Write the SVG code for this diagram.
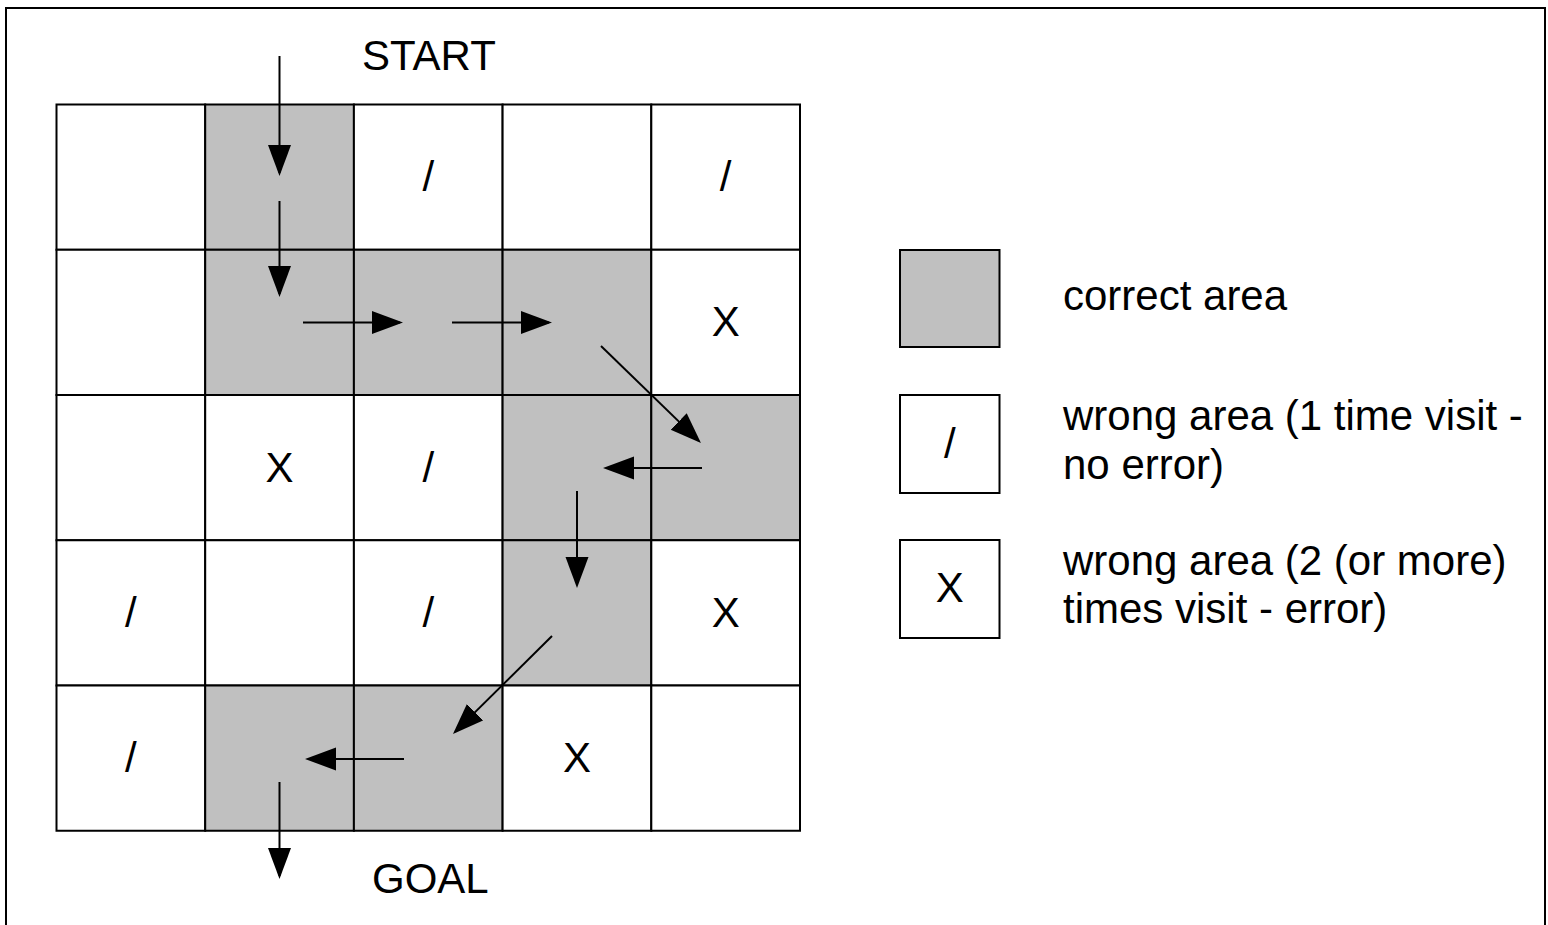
<svg xmlns="http://www.w3.org/2000/svg" width="1548" height="925" viewBox="0 0 1548 925">
<style>
.frame{fill:#fff;stroke:#000;stroke-width:2}
.w{fill:#fff;stroke:#000;stroke-width:2}
.g{fill:#c0c0c0;stroke:#000;stroke-width:2}
.t{font-family:"Liberation Sans",Arial,sans-serif;font-size:42px;fill:#000}
.c{text-anchor:middle}
.a{stroke:#000;stroke-width:2;fill:none;marker-end:url(#ah)}
</style>
<defs>
<marker id="ah" markerUnits="userSpaceOnUse" markerWidth="32" markerHeight="24" refX="28" refY="11.5" orient="auto">
<path d="M0,0 L31,11.5 L0,23 z" fill="#000"/>
</marker>
</defs>
<rect class="frame" x="6" y="8" width="1539" height="940"/>
<text id="start" class="t" x="362" y="70">START</text>
<text id="goal" class="t" x="372" y="893">GOAL</text>
<g id="grid">
<g id="r0c0"><rect class="w" x="56.5" y="104.5" width="148.7" height="145.25"/></g>
<g id="r0c1"><rect class="g" x="205.2" y="104.5" width="148.7" height="145.25"/></g>
<g id="r0c2"><rect class="w" x="353.9" y="104.5" width="148.7" height="145.25"/><text class="t c" x="428.25" y="191">/</text></g>
<g id="r0c3"><rect class="w" x="502.6" y="104.5" width="148.7" height="145.25"/></g>
<g id="r0c4"><rect class="w" x="651.3" y="104.5" width="148.7" height="145.25"/><text class="t c" x="725.65" y="191">/</text></g>
<g id="r1c0"><rect class="w" x="56.5" y="249.75" width="148.7" height="145.25"/></g>
<g id="r1c1"><rect class="g" x="205.2" y="249.75" width="148.7" height="145.25"/></g>
<g id="r1c2"><rect class="g" x="353.9" y="249.75" width="148.7" height="145.25"/></g>
<g id="r1c3"><rect class="g" x="502.6" y="249.75" width="148.7" height="145.25"/></g>
<g id="r1c4"><rect class="w" x="651.3" y="249.75" width="148.7" height="145.25"/><text class="t c" x="725.65" y="336">X</text></g>
<g id="r2c0"><rect class="w" x="56.5" y="395" width="148.7" height="145.25"/></g>
<g id="r2c1"><rect class="w" x="205.2" y="395" width="148.7" height="145.25"/><text class="t c" x="279.55" y="481.5">X</text></g>
<g id="r2c2"><rect class="w" x="353.9" y="395" width="148.7" height="145.25"/><text class="t c" x="428.25" y="481.5">/</text></g>
<g id="r2c3"><rect class="g" x="502.6" y="395" width="148.7" height="145.25"/></g>
<g id="r2c4"><rect class="g" x="651.3" y="395" width="148.7" height="145.25"/></g>
<g id="r3c0"><rect class="w" x="56.5" y="540.25" width="148.7" height="145.25"/><text class="t c" x="130.85" y="626.5">/</text></g>
<g id="r3c1"><rect class="w" x="205.2" y="540.25" width="148.7" height="145.25"/></g>
<g id="r3c2"><rect class="w" x="353.9" y="540.25" width="148.7" height="145.25"/><text class="t c" x="428.25" y="626.5">/</text></g>
<g id="r3c3"><rect class="g" x="502.6" y="540.25" width="148.7" height="145.25"/></g>
<g id="r3c4"><rect class="w" x="651.3" y="540.25" width="148.7" height="145.25"/><text class="t c" x="725.65" y="626.5">X</text></g>
<g id="r4c0"><rect class="w" x="56.5" y="685.5" width="148.7" height="145.25"/><text class="t c" x="130.85" y="772">/</text></g>
<g id="r4c1"><rect class="g" x="205.2" y="685.5" width="148.7" height="145.25"/></g>
<g id="r4c2"><rect class="g" x="353.9" y="685.5" width="148.7" height="145.25"/></g>
<g id="r4c3"><rect class="w" x="502.6" y="685.5" width="148.7" height="145.25"/><text class="t c" x="576.95" y="772">X</text></g>
<g id="r4c4"><rect class="w" x="651.3" y="685.5" width="148.7" height="145.25"/></g>
</g>
<g id="connectors">
<line class="a" x1="279.5" y1="56" x2="279.5" y2="173"/>
<line class="a" x1="279.5" y1="201" x2="279.5" y2="294"/>
<line class="a" x1="303" y1="322.5" x2="400" y2="322.5"/>
<line class="a" x1="452" y1="322.5" x2="549" y2="322.5"/>
<line class="a" x1="601" y1="346" x2="698.8" y2="440.9"/>
<line class="a" x1="702" y1="468" x2="606" y2="468"/>
<line class="a" x1="577" y1="491" x2="577" y2="585"/>
<line class="a" x1="552" y1="636" x2="455.1" y2="731.9"/>
<line class="a" x1="404" y1="759" x2="308" y2="759"/>
<line class="a" x1="279.5" y1="782" x2="279.5" y2="876"/>
</g>
<g id="legend-correct"><rect class="g" x="900" y="250" width="99.5" height="97"/><text class="t" x="1063" y="310">correct area</text></g>
<g id="legend-once"><rect class="w" x="900" y="395" width="99.5" height="98"/><text class="t c" x="949.75" y="458">/</text><text class="t" x="1063" y="430">wrong area (1 time visit -</text><text class="t" x="1063" y="479">no error)</text></g>
<g id="legend-twice"><rect class="w" x="900" y="540" width="99.5" height="98"/><text class="t c" x="949.75" y="602">X</text><text class="t" x="1063" y="575">wrong area (2 (or more)</text><text class="t" x="1063" y="623">times visit - error)</text></g>
</svg>
